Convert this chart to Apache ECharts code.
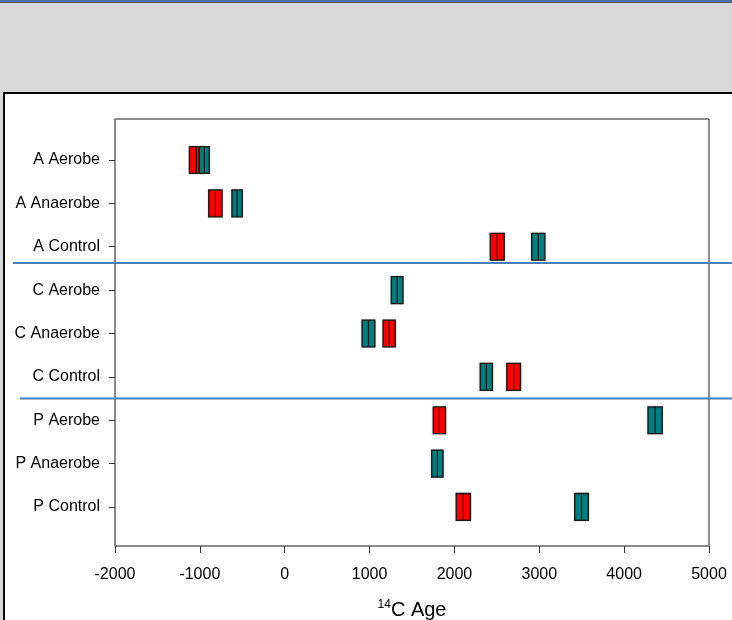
<!DOCTYPE html>
<html>
<head>
<meta charset="utf-8">
<script src="https://cdn.jsdelivr.net/npm/echarts@6/dist/echarts.min.js"></script>
<style>
html,body{margin:0;padding:0;width:732px;height:620px;overflow:hidden;background:#d9d9d9;}
#topbar{position:absolute;left:0;top:0;width:732px;height:2px;background:#4a6ea8;}
#topbar2{position:absolute;left:0;top:2px;width:732px;height:1px;background:#5a5a5a;}
#panel{position:absolute;left:3px;top:92px;width:729px;height:528px;background:#fff;border-left:2px solid #000;border-top:2px solid #000;box-sizing:border-box;}
#chart{position:absolute;left:0;top:0;width:732px;height:620px;}
</style>
</head>
<body>
<div id="topbar"></div><div id="topbar2"></div>
<div id="panel"></div>
<div id="chart"></div>
<script>
// Categories (top to bottom)
const categories = ['A Aerobe','A Anaerobe','A Control','C Aerobe','C Anaerobe','C Control','P Aerobe','P Anaerobe','P Control'];
// Red series: centre age and half-width (null = no box)
const redCenter = [-1041, -817, 2505, null, 1231, 2698, 1823, null, 2105];
const redErr    = [82, 79, 82, null, 72, 81, 72, null, 84];
// Teal series
const tealCenter = [-947, -561, 2988, 1325, 987, 2376, 4365, 1799, 3498];
const tealErr    = [59, 61, 78, 69, 75, 72, 84, 67, 81];
// X-axis ticks
const xMin = -2000, xMax = 5000, xStep = 1000;

function buildData(centers, errs) {
  const out = [];
  centers.forEach((c, i) => {
    if (c !== null) out.push([c - errs[i], c + errs[i], c, i + 1]);
  });
  return out;
}

function boxSeries(name, centers, errs, color) {
  return {
    name: name,
    type: 'custom',
    data: buildData(centers, errs),
    encode: { x: [0, 1, 2], y: 3 },
    renderItem: function (params, api) {
      const y = api.value(3);
      const lo = api.coord([api.value(0), y]);
      const hi = api.coord([api.value(1), y]);
      const mid = api.coord([api.value(2), y]);
      const h = api.size([0, 0.62])[1];
      return {
        type: 'group',
        children: [
          { type: 'rect',
            shape: { x: lo[0], y: lo[1] - h / 2, width: hi[0] - lo[0], height: h },
            style: { fill: color, stroke: '#1a1a1a', lineWidth: 1.3, shadowColor: 'rgba(0,0,0,0.35)', shadowBlur: 1.5 } },
          { type: 'line',
            shape: { x1: mid[0], y1: lo[1] - h / 2, x2: mid[0], y2: lo[1] + h / 2 },
            style: { stroke: '#1a1a1a', lineWidth: 1.3 } }
        ]
      };
    }
  };
}

const chart = echarts.init(document.getElementById('chart'));
const font = '"Liberation Sans", Arial, sans-serif';
chart.setOption({
  animation: false,
  backgroundColor: 'transparent',
  grid: { left: 115, right: 23, top: 119, bottom: 74, outerBoundsMode: 'none', containLabel: false,
          show: true, borderColor: '#1a1a1a', borderWidth: 1, backgroundColor: 'transparent' },
  xAxis: {
    type: 'value', min: xMin, max: xMax, interval: xStep,
    name: '{s|14}{t|C Age}', nameLocation: 'middle', nameGap: 53,
    nameTextStyle: { rich: {
      s: { fontSize: 12, fontFamily: font, color: '#000', verticalAlign: 'top', padding: [0, 0, 10, 0] },
      t: { fontSize: 20, fontFamily: font, color: '#000' } } },
    axisLine: { show: true, onZero: false, lineStyle: { color: '#8a8a8a', width: 1.5 } },
    axisTick: { show: true, length: 7, lineStyle: { color: '#333' } },
    axisLabel: { fontSize: 16, fontFamily: font, color: '#000', margin: 21,
      formatter: function (v) { return String(v); } },
    splitLine: { show: false }
  },
  yAxis: {
    type: 'value', inverse: true, min: 0.055, max: 9.9,
    axisLine: { show: true, onZero: false, lineStyle: { color: '#8a8a8a', width: 1.5 } },
    axisTick: { show: true, length: 6, inside: false, customValues: [1,2,3,4,5,6,7,8,9], lineStyle: { color: '#333' } },
    axisLabel: { fontSize: 16, fontFamily: font, color: '#000', margin: 15,
      customValues: [1,2,3,4,5,6,7,8,9],
      formatter: function (v) { const i = Math.round(v) - 1; return categories[i] || ''; } },
    splitLine: { show: false }
  },
  series: [
    boxSeries('red', redCenter, redErr, '#ff0000'),
    boxSeries('teal', tealCenter, tealErr, '#008080')
  ],
  graphic: [
    { type: 'line', z: 100, shape: { x1: 13, y1: 263, x2: 732, y2: 263 }, style: { stroke: '#4a7ebb', lineWidth: 2 } },
    { type: 'line', z: 100, shape: { x1: 20, y1: 398.5, x2: 732, y2: 398.5 }, style: { stroke: '#4a7ebb', lineWidth: 2 } }
  ]
});
</script>
</body>
</html>
